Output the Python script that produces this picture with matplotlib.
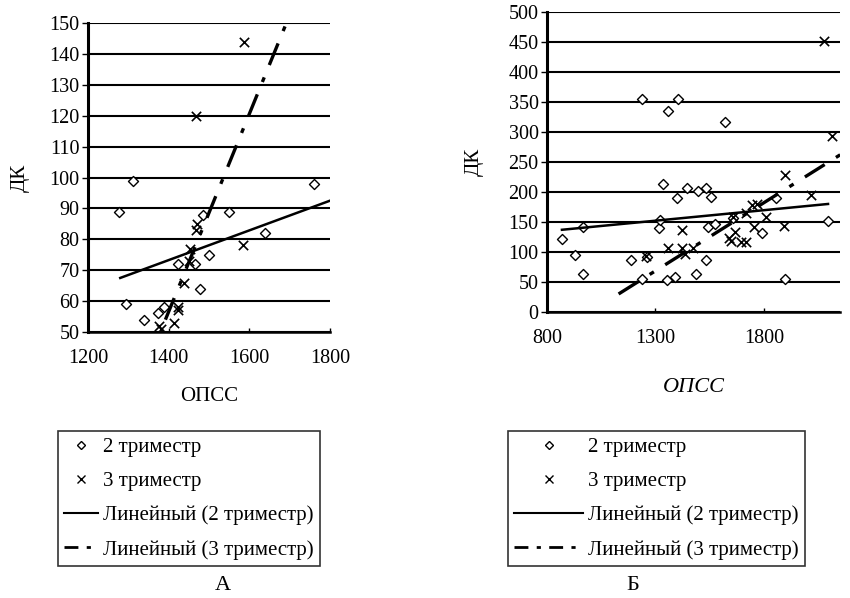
import matplotlib
matplotlib.use('Agg')
import matplotlib.pyplot as plt
from matplotlib.lines import Line2D

plt.rcParams['font.family'] = ['Liberation Serif', 'DejaVu Serif']

# --- Панель А ---
a_x2 = [1276, 1312, 1294, 1339, 1373, 1389, 1423, 1465, 1478, 1500, 1485, 1549, 1761, 1640]
a_y2 = [89, 99, 59, 54, 56, 58, 72, 72, 64, 75, 88, 89, 98, 82]
a_x3 = [1588, 1469, 1471, 1467, 1453, 1451, 1437, 1423, 1423, 1414, 1376, 1380, 1584]
a_y3 = [144, 120, 85, 83, 77, 73, 66, 58, 57, 53, 52, 51, 78]
a_trend2_x = [1280, 1800]
a_trend2_y = [67.5, 92.5]
a_trend3_x = [1392, 1692]
a_trend3_y = [54, 150]

# --- Панель Б ---
b_x2 = [869, 931, 965, 965, 1238, 1405, 1357, 1618, 1335, 1443, 1397, 1498, 1532, 1557,
        1854, 1315, 1320, 1189, 1262, 1238, 1351, 1388, 1486, 1535, 1542, 1574, 1789,
        1895, 2095, 1657]
b_y2 = [121, 95, 64, 141, 355, 355, 335, 317, 213, 207, 190, 201, 207, 191,
        190, 140, 154, 86, 92, 55, 53, 59, 64, 87, 141, 147, 131,
        55, 152, 156]
b_x3 = [2077, 2111, 1895, 2015, 1892, 1746, 1808, 1754, 1658, 1665, 1638, 1646, 1695,
        1715, 1423, 1357, 1423, 1472, 1434, 1258, 1715, 1769]
b_y3 = [452, 293, 228, 195, 144, 178, 158, 142, 159, 134, 123, 118, 116,
        116, 137, 106, 106, 106, 97, 94, 165, 180]
b_trend2_x = [869, 2095]
b_trend2_y = [137, 180]
b_trend3_x = [1130, 2160]
b_trend3_y = [30, 264]

labels = ['2 триместр', '3 триместр', 'Линейный (2 триместр)', 'Линейный (3 триместр)']
dash3 = (0, (7, 4, 1.5, 4))

fig = plt.figure(figsize=(8.5, 5.98), dpi=100)


def draw(ax, x2, y2, x3, y3, t2x, t2y, t3x, t3y):
    ax.grid(axis='y', color='black', linewidth=1.5)
    ax.set_axisbelow(True)
    ax.scatter(x2, y2, marker='D', s=26, facecolors='white', edgecolors='black',
               linewidths=1.0, zorder=3)
    ax.scatter(x3, y3, marker='x', s=45, color='black', linewidths=1.2, zorder=3)
    ax.plot(t2x, t2y, color='black', linewidth=1.8, zorder=4)
    ax.plot(t3x, t3y, color='black', linewidth=2.4, linestyle=dash3, zorder=4)
    for s in ['top', 'right']:
        ax.spines[s].set_visible(False)
    ax.spines['left'].set_linewidth(2.2)
    ax.spines['bottom'].set_linewidth(1.8)
    ax.tick_params(axis='y', direction='out', length=4, width=1, labelsize=14.5, pad=2)
    ax.tick_params(axis='x', direction='in', length=3, width=1, labelsize=14.5, pad=12)


axA = fig.add_axes([0.1035, 0.4448, 0.2847, 0.5167])
draw(axA, a_x2, a_y2, a_x3, a_y3, a_trend2_x, a_trend2_y, a_trend3_x, a_trend3_y)
axA.set_xlim(1200, 1800)
axA.set_ylim(50, 150)
axA.set_xticks([1200, 1400, 1600, 1800])
axA.set_yticks(range(50, 151, 10))
axA.set_xlabel('ОПСС', fontsize=15, labelpad=14)
axA.set_ylabel('ДК', fontsize=15, labelpad=14)

axB = fig.add_axes([0.6435, 0.4783, 0.3447, 0.5017])
draw(axB, b_x2, b_y2, b_x3, b_y3, b_trend2_x, b_trend2_y, b_trend3_x, b_trend3_y)
axB.set_xlim(800, 2150)
axB.set_ylim(0, 500)
axB.set_xticks([800, 1300, 1800])
axB.set_yticks(range(0, 501, 50))
axB.set_xlabel('ОПСС', fontsize=16, labelpad=22, fontstyle='italic')
axB.set_ylabel('ДК', fontsize=15, labelpad=18)

handles = [
    Line2D([], [], linestyle='none', marker='D', markersize=4.5, markerfacecolor='white',
           markeredgecolor='black'),
    Line2D([], [], linestyle='none', marker='x', markersize=5.5, color='black'),
    Line2D([], [], color='black', linewidth=1.5),
    Line2D([], [], color='black', linewidth=2, linestyle=(0, (5, 3, 1.5, 3))),
]

for xpos, letter, lx, hl in [(58, 'А', 223, 1.6), (508, 'Б', 633, 3.3)]:
    leg = fig.legend(handles, labels, loc='upper left',
                     bbox_to_anchor=(xpos / 850, 1 - 431 / 598), fontsize=15,
                     frameon=True, fancybox=False, edgecolor='black',
                     handlelength=hl, handletextpad=0.25, labelspacing=0.7,
                     borderpad=0.3, borderaxespad=0)
    leg.get_frame().set_linewidth(1.2)
    fig.text(lx / 850, 1 - 586 / 598, letter, ha='center', va='center', fontsize=16)

fig.savefig('out.png', dpi=100)
